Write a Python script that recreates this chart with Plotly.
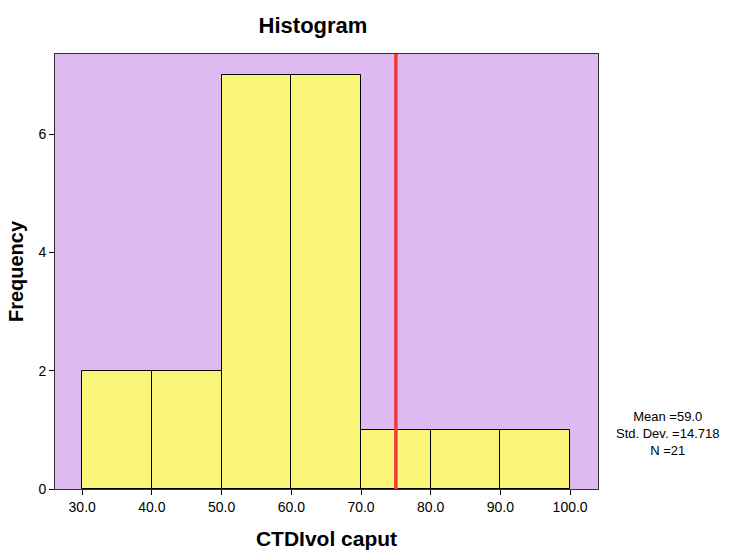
import plotly.graph_objects as go

bin_starts = [30, 40, 50, 60, 70, 80, 90]
counts = [2, 2, 7, 7, 1, 1, 1]
bin_width = 10
mean_line = 75
x_ticks = [30, 40, 50, 60, 70, 80, 90, 100]
x_tick_labels = ["30.0", "40.0", "50.0", "60.0", "70.0", "80.0", "90.0", "100.0"]
y_ticks = [0, 2, 4, 6]
stats_lines = ["Mean =59.0", "Std. Dev. =14.718", "N =21"]

centers = [s + bin_width / 2 for s in bin_starts]

L, R, T, B = 55, 134, 54, 61
W, H = 732, 550
FONT = "Liberation Sans, Arial"

fig = go.Figure()
fig.add_trace(go.Bar(
    x=centers, y=counts, width=[bin_width] * len(counts),
    marker=dict(color="#FAF67A", line=dict(color="#000000", width=1)),
    showlegend=False, hoverinfo="skip",
))
fig.add_shape(type="line", x0=mean_line, x1=mean_line, y0=0, y1=1,
              xref="x", yref="paper", line=dict(color="#F03A3A", width=3.5), layer="above")

fig.add_annotation(text="<br>".join(stats_lines), xref="paper", yref="paper",
                   x=(667 - L) / (W - L - R), y=(H - B - 433) / (H - B - T),
                   xanchor="center", yanchor="middle", showarrow=False,
                   font=dict(family=FONT, size=13, color="#000"), align="center")

fig.update_layout(
    width=W, height=H,
    margin=dict(l=L, r=R, t=T, b=B),
    paper_bgcolor="white", plot_bgcolor="#DFB9F2",
    bargap=0,
    font=dict(family=FONT, size=14, color="#000"),
    title=dict(text="<b>Histogram</b>", x=(258 + 368) / 2 / W, xanchor="center",
               y=1 - 25 / H, yanchor="middle", font=dict(size=22)),
)
fig.update_xaxes(
    range=[26.1, 104.0], tickvals=x_ticks, ticktext=x_tick_labels, automargin=False,
    ticks="outside", ticklen=5, tickcolor="#000", showgrid=False, zeroline=False,
    tickfont=dict(size=14),
    showline=True, linecolor="#333", linewidth=1, mirror=True,
    title=dict(text="<b>CTDIvol caput</b>", font=dict(size=21), standoff=18),
)
fig.update_yaxes(
    range=[0, 7.36], tickvals=y_ticks, automargin=False,
    ticks="outside", ticklen=5, tickcolor="#000", showgrid=False, zeroline=False,
    tickfont=dict(size=14),
    showline=True, linecolor="#333", linewidth=1, mirror=True,
    title=dict(text="<b>Frequency</b>", font=dict(size=20), standoff=9),
)

fig.write_html("out.html", config={"displayModeBar": False},
               post_script="document.body.style.margin='0';document.body.style.overflow='hidden';")
